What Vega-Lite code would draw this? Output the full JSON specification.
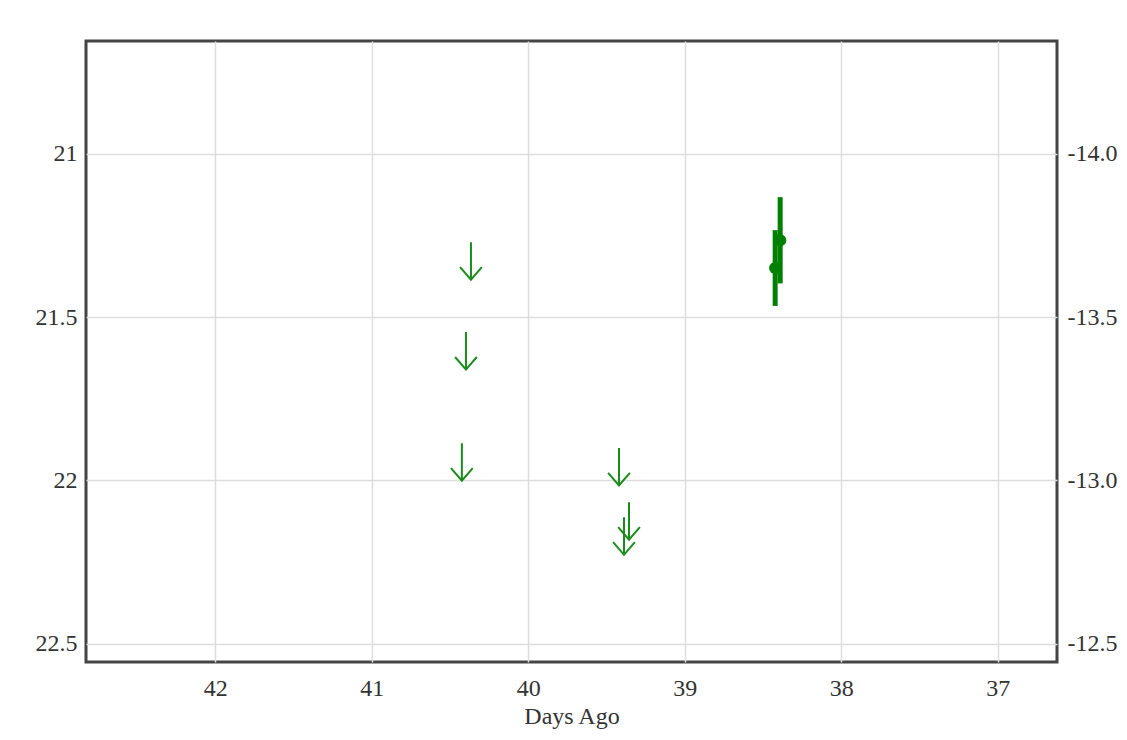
{
  "$schema": "https://vega.github.io/schema/vega-lite/v6.json",
  "width": 971,
  "height": 621,
  "autosize": {"type": "none"},
  "padding": {"left": 86, "top": 41, "right": 70, "bottom": 78},
  "background": "white",
  "config": {
    "view": {"stroke": "#444444", "strokeWidth": 3},
    "font": "Liberation Serif",
    "axis": {
      "labelFont": "Liberation Serif",
      "labelFontSize": 24,
      "labelColor": "#333333",
      "titleFont": "Liberation Serif",
      "titleFontSize": 24,
      "titleFontWeight": "normal",
      "titleColor": "#333333",
      "domain": false,
      "ticks": false,
      "gridColor": "#dddddd",
      "gridWidth": 1.5
    }
  },
  "datasets": {
    "limits": [
      {"days_ago": 40.366, "mag": 21.271},
      {"days_ago": 40.398, "mag": 21.546},
      {"days_ago": 40.424, "mag": 21.886},
      {"days_ago": 39.420, "mag": 21.901},
      {"days_ago": 39.356, "mag": 22.067},
      {"days_ago": 39.388, "mag": 22.113}
    ],
    "detections": [
      {"days_ago": 38.390, "mag": 21.265, "err": 0.132},
      {"days_ago": 38.422, "mag": 21.350, "err": 0.116}
    ]
  },
  "resolve": {"axis": {"y": "independent"}},
  "layer": [
    {
      "data": {"name": "limits"},
      "mark": {
        "type": "point",
        "shape": "M0,0L0,2M-0.58,1.33L0,2L0.58,1.33",
        "size": 1406,
        "filled": false,
        "stroke": "#1a8c1a",
        "strokeWidth": 2,
        "opacity": 1
      },
      "encoding": {
        "x": {
          "field": "days_ago",
          "type": "quantitative",
          "scale": {"domain": [36.621, 42.826], "reverse": true, "nice": false, "zero": false},
          "axis": {
            "values": [42, 41, 40, 39, 38, 37],
            "format": "d",
            "title": "Days Ago",
            "labelFont": "Liberation Serif",
            "titleFont": "Liberation Serif",
            "labelPadding": 14,
            "titlePadding": 4,
            "grid": true
          }
        },
        "y": {
          "field": "mag",
          "type": "quantitative",
          "scale": {"domain": [20.655, 22.556], "reverse": true, "nice": false, "zero": false},
          "axis": {
            "orient": "left",
            "values": [21, 21.5, 22, 22.5],
            "format": "~g",
            "title": null,
            "labelFont": "Liberation Serif",
            "labelPadding": 9,
            "grid": true
          }
        }
      }
    },
    {
      "data": {"name": "detections"},
      "mark": {"type": "errorbar", "thickness": 5, "color": "green"},
      "encoding": {
        "x": {"field": "days_ago", "type": "quantitative"},
        "y": {"field": "mag", "type": "quantitative", "axis": null},
        "yError": {"field": "err"}
      }
    },
    {
      "data": {"name": "detections"},
      "mark": {"type": "circle", "size": 150, "color": "green", "opacity": 1},
      "encoding": {
        "x": {"field": "days_ago", "type": "quantitative"},
        "y": {
          "field": "mag",
          "type": "quantitative",
          "axis": {
            "orient": "right",
            "values": [21, 21.5, 22, 22.5],
            "labelExpr": "'-' + format(35 - datum.value, '.1f')",
            "title": null,
            "labelFont": "Liberation Serif",
            "labelPadding": 10,
            "grid": false
          }
        }
      }
    }
  ]
}
